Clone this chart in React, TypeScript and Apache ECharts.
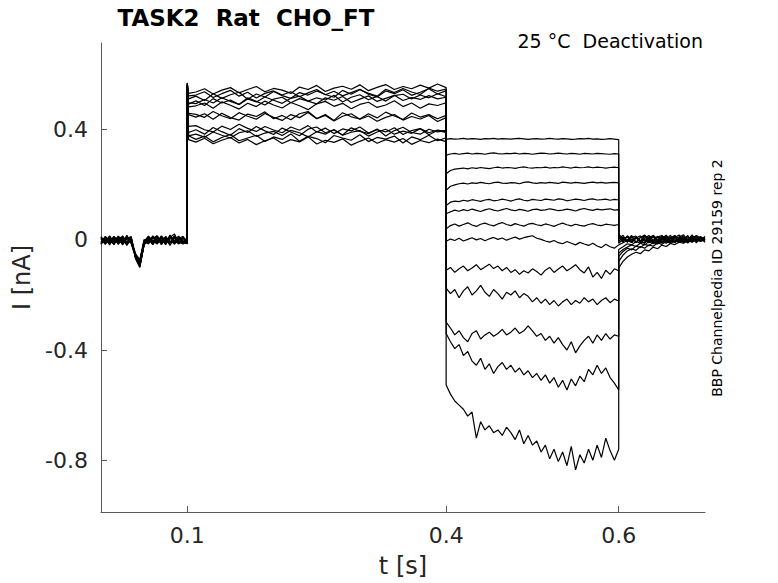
import React, { useEffect, useRef } from 'react';
import * as echarts from 'echarts';

const FONT = 'DejaVu Sans';

const xTicks = [0.1, 0.4, 0.6];
const yTicks = [-0.8, -0.4, 0, 0.4];

// sample times (s) of each protocol segment
const grid = (start: number, step: number, n: number) =>
  Array.from({ length: n }, (_, i) => +(start + i * step).toFixed(4));
const baselineT = grid(0, 0.005, 21);
const activationT = [0.1, 0.1015, ...grid(0.11, 0.01, 30)];
const deactivationT = grid(0.4, 0.005, 41);
const tailT = grid(0.6, 0.005, 21);

// currents in pA, one row per sweep
const baseline = [
  [-12, 5, -18, 8, -6, 12, -15, -2, -60, -85, -14, 10, -8, 15, -16, 4, -20, 9, -4, -12, -8],
  [8, -14, 4, -9, 14, -12, 6, -6, -55, -78, -2, -15, 12, -3, 7, -18, 18, -8, 9, -5, -14],
  [-16, 6, -10, 12, -14, 3, -20, 7, -65, -95, -18, 4, -13, 8, -17, 11, -6, -13, 14, -9, -10],
  [5, -9, 12, -16, 7, -3, 10, -11, -58, -80, -8, 14, -6, -12, 13, -7, 9, 22, -9, 11, -4],
  [-8, 11, -3, -14, 9, -18, 5, 12, -68, -100, -16, -7, 11, -15, 5, -10, 15, -3, -14, 7, -12],
  [12, -10, 7, 2, -12, 9, -14, 5, -50, -72, 2, -13, 7, 11, -9, 13, -11, 5, 11, -10, 4],
  [-14, 3, -12, 9, -5, 15, -9, -3, -62, -90, -15, 7, -17, 5, -8, 3, -13, 16, -7, -15, -6],
  [3, -16, 9, -5, 13, -8, 3, -11, -55, -82, -7, -3, 9, -10, 15, -5, 7, -12, 5, 13, -15],
  [-10, 13, -5, 7, -16, 5, -8, 11, -66, -98, -17, 11, -9, 13, -3, -14, 5, 9, -15, -3, -2],
  [7, -5, 15, -9, 3, -14, 9, -7, -52, -75, -3, -10, 15, -7, 9, -12, 17, -5, 7, -11, -11],
  [-15, 9, -7, 13, -3, -9, 17, -13, -63, -92, -12, 3, -16, 9, -14, 7, -10, 13, -9, 5, -7],
  [11, -12, 3, -17, 11, 7, -7, 3, -57, -84, -5, 13, -3, -14, 11, -3, 13, -16, 3, -7, -13],
  [-5, 1, -14, 7, -8, -4, 13, -7, -60, -88, -10, -5, 5, 15, -5, 9, -7, 7, -12, 9, -9],
];

const activation = [
  [565, 512, 522, 506, 531, 514, 527, 536, 511, 530, 519, 539, 524, 514, 535, 526, 541, 528, 518, 543, 529, 545, 532, 522, 547, 535, 550, 537, 528, 551, 540, 548],
  [560, 455, 446, 458, 438, 460, 444, 435, 457, 448, 465, 440, 452, 436, 458, 466, 441, 455, 434, 462, 447, 439, 458, 443, 464, 450, 437, 461, 446, 455, 440, 452],
  [550, 390, 400, 384, 408, 393, 380, 404, 390, 412, 396, 383, 406, 392, 378, 402, 410, 389, 399, 381, 407, 394, 386, 403, 377, 397, 409, 390, 384, 402, 392, 398],
  [570, 493, 505, 488, 513, 497, 508, 492, 516, 503, 490, 511, 518, 498, 513, 504, 494, 516, 507, 521, 499, 511, 523, 503, 514, 525, 506, 517, 510, 524, 512, 518],
  [545, 378, 365, 377, 356, 372, 383, 360, 370, 380, 357, 374, 365, 385, 358, 376, 368, 353, 379, 370, 362, 382, 357, 372, 366, 377, 352, 374, 364, 380, 360, 371],
  [570, 532, 537, 549, 530, 544, 553, 534, 546, 557, 538, 550, 544, 532, 555, 546, 561, 539, 551, 558, 547, 563, 542, 554, 564, 546, 557, 549, 562, 551, 566, 553],
  [560, 460, 456, 445, 466, 451, 440, 462, 449, 438, 459, 445, 434, 455, 444, 463, 440, 452, 432, 449, 458, 438, 450, 431, 445, 455, 435, 448, 439, 452, 430, 444],
  [555, 412, 415, 400, 392, 413, 401, 420, 405, 394, 412, 399, 389, 410, 398, 415, 392, 406, 386, 403, 396, 410, 388, 400, 392, 407, 383, 397, 404, 389, 399, 393],
  [565, 498, 495, 510, 497, 516, 503, 492, 512, 501, 519, 507, 496, 514, 522, 504, 516, 508, 525, 501, 518, 527, 509, 521, 504, 524, 529, 512, 526, 516, 531, 520],
  [540, 364, 355, 369, 349, 362, 372, 352, 365, 346, 360, 370, 350, 364, 356, 374, 348, 362, 354, 367, 344, 358, 370, 351, 364, 355, 368, 347, 361, 353, 366, 357],
  [562, 483, 487, 497, 478, 501, 489, 475, 496, 484, 504, 490, 479, 499, 487, 473, 494, 503, 485, 496, 476, 492, 500, 481, 490, 505, 484, 497, 478, 494, 488, 498],
  [568, 523, 526, 538, 517, 531, 543, 522, 536, 515, 532, 541, 526, 538, 520, 534, 546, 527, 540, 523, 535, 547, 529, 519, 541, 531, 545, 525, 536, 549, 530, 542],
  [548, 378, 384, 373, 392, 380, 370, 389, 396, 376, 388, 394, 379, 398, 389, 374, 393, 384, 401, 380, 391, 397, 377, 392, 402, 384, 395, 387, 404, 382, 397, 390],
];

const deactivation = [
  [365, 368, 366, 367, 369, 366, 368, 367, 365, 368, 367, 369, 366, 368, 367, 366, 368, 369, 367, 365, 367, 368, 366, 367, 369, 367, 366, 368, 367, 365, 366, 368, 367, 369, 366, 367, 365, 366, 368, 366, 364],
  [308, 312, 314, 311, 313, 315, 312, 314, 313, 311, 314, 316, 313, 312, 314, 313, 315, 312, 314, 313, 311, 313, 315, 314, 312, 313, 315, 313, 312, 314, 313, 311, 314, 313, 312, 314, 313, 312, 311, 313, 312],
  [240, 252, 257, 259, 261, 258, 262, 260, 263, 261, 259, 262, 264, 261, 263, 262, 260, 263, 265, 262, 261, 263, 262, 264, 261, 263, 262, 265, 263, 261, 264, 262, 263, 265, 262, 264, 263, 261, 263, 264, 262],
  [180, 195, 200, 204, 206, 203, 207, 205, 209, 206, 204, 208, 210, 206, 205, 208, 207, 204, 209, 211, 207, 205, 208, 206, 209, 207, 205, 210, 208, 206, 209, 207, 205, 208, 210, 207, 209, 206, 208, 209, 207],
  [125, 137, 141, 139, 144, 141, 146, 143, 140, 145, 147, 142, 144, 148, 145, 141, 146, 149, 144, 142, 147, 145, 143, 148, 146, 144, 149, 147, 142, 145, 148, 146, 143, 147, 149, 145, 146, 148, 144, 147, 145],
  [95, 102, 108, 104, 110, 106, 112, 107, 103, 109, 113, 108, 105, 110, 114, 109, 106, 111, 108, 104, 110, 112, 107, 109, 113, 110, 106, 108, 112, 109, 105, 111, 114, 110, 107, 112, 109, 111, 113, 108, 110],
  [40, 52, 58, 50, 56, 62, 54, 49, 57, 61, 55, 51, 58, 63, 56, 52, 59, 54, 50, 57, 60, 55, 52, 58, 54, 49, 56, 61, 55, 51, 57, 53, 50, 56, 59, 54, 52, 57, 55, 53, 56],
  [-5, 3, -2, 6, -4, 2, 8, 0, 5, -3, 4, 9, 2, 7, -1, 5, 10, 3, 8, 12, 15, 6, 2, -4, -8, -2, -10, -14, -6, -12, -18, -9, -15, -20, -12, -22, -28, -16, -25, -30, -18],
  [-110, -100, -118, -105, -95, -112, -102, -90, -108, -98, -88, -104, -95, -112, -100, -118, -108, -125, -112, -120, -105, -115, -128, -110, -100, -118, -106, -95, -112, -102, -90, -108, -120, -98, -135, -118, -140, -110, -125, -105, -112],
  [-175, -195, -180, -210, -185, -170, -200, -185, -165, -190, -205, -180, -195, -215, -190, -200, -185, -210, -195, -205, -225, -210, -230, -215, -235, -220, -240, -225, -215, -235, -220, -230, -210, -225, -215, -235, -220, -210, -228, -215, -222],
  [-298, -320, -345, -330, -355, -370, -340, -330, -360, -345, -335, -350, -340, -325, -345, -335, -320, -340, -330, -312, -330, -350, -340, -365, -350, -375, -355, -380, -400, -370, -410, -385, -365, -350, -375, -345, -365, -340, -360, -345, -350],
  [-340, -370, -395, -380, -420, -405, -440, -455, -430, -470, -450, -485, -460, -445, -470, -455, -480, -465, -490, -475, -500, -485, -510, -490, -520, -500, -535, -510, -545, -505, -530, -495, -515, -470, -490, -455, -485, -465, -500, -520, -545],
  [-527, -560, -585, -600, -615, -640, -625, -720, -660, -690, -675, -700, -690, -710, -680, -700, -725, -690, -740, -710, -745, -730, -770, -745, -795, -760, -805, -770, -820, -750, -835, -780, -810, -760, -800, -745, -790, -720, -765, -800, -760],
];

const tail = [
  [20, 6, -8, 14, -10, 9, 18, -4, 12, -9, 15, 2, 17, -7, 10, 19, -2, 13, -11, 8, 0],
  [14, -3, 13, -9, 10, -4, 16, 6, -10, 12, -2, 15, -8, 9, 18, 3, -9, 13, -1, 10, 4],
  [2, 17, -8, 9, 14, -3, -11, 10, 15, -1, 12, -9, 6, 16, -5, 10, -10, 15, 2, 12, -6],
  [16, 0, 12, -10, 6, 15, -5, 10, -9, 13, 5, 17, -3, -8, 12, 1, 16, -9, 8, -2, 13],
  [-6, 10, -1, 16, -9, 8, 13, -7, 17, 2, -10, 11, 4, 15, -8, 9, -1, 18, -5, 6, -9],
  [11, -9, 15, 1, 10, -8, 6, 16, -2, 13, -9, 8, -4, 15, 4, -11, 12, -3, 16, 7, 2],
  [-12, 2, 12, -5, 9, -10, 14, 3, -8, 10, 16, -3, 11, -10, 6, 13, -6, 8, 15, -4, 10],
  [-20, -10, -2, -9, 8, -6, -12, 5, 11, -8, 7, -4, -10, 9, 0, 13, -7, 6, -5, 11, -1],
  [-35, -25, -14, -18, -6, -12, 2, -10, -1, -13, 4, -7, 5, -9, 2, 9, -7, 1, 8, -4, 4],
  [-48, -35, -26, -18, -24, -12, -18, -6, -14, -3, -10, 0, -9, 4, -5, 1, -11, 3, -3, 6, -1],
  [-60, -42, -30, -36, -22, -28, -16, -21, -9, -15, -5, -12, -2, -8, 1, -7, 4, -4, 0, -5, 3],
  [-78, -55, -40, -32, -38, -24, -30, -18, -23, -11, -16, -6, -13, -3, -8, 0, -6, 3, -4, -1, -3],
  [-102, -78, -62, -52, -45, -50, -36, -40, -26, -32, -19, -24, -13, -17, -8, -12, -4, -7, -1, -5, 0],
];

function sweep(i: number) {
  const pts: [number, number][] = [];
  const add = (ts: number[], vs: number[]) => ts.forEach((t, k) => pts.push([t, vs[k] / 1000]));
  add(baselineT, baseline[i]);
  add(activationT, activation[i]);
  add(deactivationT, deactivation[i]);
  add(tailT, tail[i]);
  return pts;
}

export default function App() {
  const chartRef = useRef<HTMLDivElement>(null);

  useEffect(() => {
    if (!chartRef.current) return;
    const chart = echarts.init(chartRef.current, null, { renderer: 'svg' });

    const axisColor = '#5a5a5a';
    const labelColor = '#262626';

    chart.setOption({
      animation: false,
      backgroundColor: '#fff',
      grid: { left: 101, right: 73, top: 43, bottom: 71 },
      xAxis: {
        type: 'value',
        min: 0,
        max: 0.7,
        name: 't [s]',
        nameLocation: 'middle',
        nameGap: 42,
        nameTextStyle: { fontSize: 24, color: labelColor, fontFamily: FONT },
        axisLine: { onZero: false, lineStyle: { color: axisColor, width: 1 } },
        axisTick: { inside: true, length: 6, customValues: xTicks, lineStyle: { color: axisColor } },
        axisLabel: {
          customValues: xTicks,
          fontSize: 22,
          color: labelColor,
          fontFamily: FONT,
          margin: 12,
          formatter: (v: number) => String(v),
        },
        splitLine: { show: false },
      },
      yAxis: {
        type: 'value',
        min: -0.988,
        max: 0.715,
        name: 'I [nA]',
        nameLocation: 'middle',
        nameGap: 62,
        nameTextStyle: { fontSize: 24, color: labelColor, fontFamily: FONT },
        axisLine: { onZero: false, lineStyle: { color: axisColor, width: 1 } },
        axisTick: { inside: true, length: 6, customValues: yTicks, lineStyle: { color: axisColor } },
        axisLabel: {
          customValues: yTicks,
          fontSize: 22,
          color: labelColor,
          fontFamily: FONT,
          margin: 13,
          formatter: (v: number) => String(v),
        },
        splitLine: { show: false },
      },
      graphic: [
        {
          type: 'text',
          x: 246,
          y: 18,
          style: {
            text: 'TASK2  Rat  CHO_FT',
            font: `bold 23px "${FONT}"`,
            fill: '#000',
            textAlign: 'center',
            textVerticalAlign: 'middle',
          },
        },
        {
          type: 'text',
          x: 703,
          y: 41,
          style: {
            text: '25 °C  Deactivation',
            font: `19px "${FONT}"`,
            fill: '#000',
            textAlign: 'right',
            textVerticalAlign: 'middle',
          },
        },
        {
          type: 'text',
          x: 717,
          y: 278,
          rotation: Math.PI / 2,
          style: {
            text: 'BBP Channelpedia ID 29159 rep 2',
            font: `14px "${FONT}"`,
            fill: '#000',
            textAlign: 'center',
            textVerticalAlign: 'middle',
          },
        },
      ],
      series: baseline.map((_, i) => ({
        type: 'line',
        data: sweep(i),
        showSymbol: false,
        silent: true,
        lineStyle: { color: '#000', width: 1.2 },
      })),
    });

    return () => chart.dispose();
  }, []);

  return (
    <div
      ref={chartRef}
      style={{ position: 'fixed', left: 0, top: 0, width: 778, height: 583 }}
    />
  );
}
